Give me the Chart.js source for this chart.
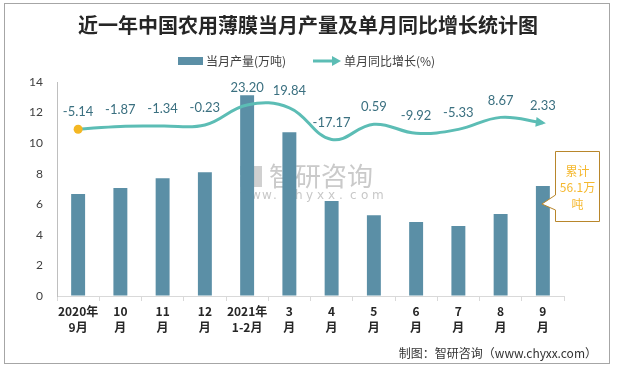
<!DOCTYPE html>
<html>
<head>
<meta charset="utf-8">
<script src="https://cdn.jsdelivr.net/npm/chart.js@4.4.1/dist/chart.umd.min.js"></script>
<style>
html,body{margin:0;padding:0;background:#fff;}
#wrap{position:relative;width:617px;height:367px;}
canvas{display:block;}
</style>
</head>
<body>
<div id="wrap"><canvas id="c" width="617" height="367"></canvas></div>
<script>
// ---- data ----
const categories = [['2020年','9月'],['10','月'],['11','月'],['12','月'],['2021年','1-2月'],['3','月'],['4','月'],['5','月'],['6','月'],['7','月'],['8','月'],['9','月']];
const production = [6.67, 7.06, 7.71, 8.10, 13.14, 10.72, 6.21, 5.29, 4.84, 4.58, 5.36, 7.19];
const growth = [-5.14, -1.87, -1.34, -0.23, 23.20, 19.84, -17.17, 0.59, -9.92, -5.33, 8.67, 2.33];
const yTicks = [0, 2, 4, 6, 8, 10, 12, 14];
const titleText = '近一年中国农用薄膜当月产量及单月同比增长统计图';
const legendBar = '当月产量(万吨)';
const legendLine = '单月同比增长(%)';
const calloutLines = ['累计', '56.1万', '吨'];
const footerText = '制图：智研咨询（www.chyxx.com）';

const BAR = '#5b8fa6';
const LINE = '#5cbdb5';
const CJK = '"Noto Sans CJK SC", sans-serif';

const decorPlugin = {
  id: 'decor',
  beforeDraw(chart) {
    const ctx = chart.ctx;
    ctx.save();
    ctx.fillStyle = '#fff';
    ctx.fillRect(0, 0, chart.width, chart.height);
    // border
    ctx.strokeStyle = '#a6a6a6';
    ctx.lineWidth = 1;
    ctx.strokeRect(4.5, 3.5, 605, 360);
    // title
    ctx.fillStyle = '#262626';
    ctx.font = 'bold 20px ' + CJK;
    ctx.textAlign = 'center';
    ctx.textBaseline = 'middle';
    ctx.fillText(titleText, 308, 25);
    // legend
    ctx.font = '12px ' + CJK;
    ctx.textAlign = 'left';
    ctx.fillStyle = BAR;
    ctx.fillRect(178, 57, 25, 8);
    ctx.fillStyle = '#404040';
    ctx.fillText(legendBar, 206, 61);
    ctx.strokeStyle = LINE;
    ctx.lineWidth = 3;
    ctx.beginPath(); ctx.moveTo(313, 61); ctx.lineTo(334, 61); ctx.stroke();
    ctx.fillStyle = LINE;
    ctx.beginPath(); ctx.moveTo(341, 61); ctx.lineTo(332, 56); ctx.lineTo(332, 66); ctx.closePath(); ctx.fill();
    ctx.fillStyle = '#404040';
    ctx.fillText(legendLine, 344, 61);
    // footer
    ctx.font = '12px ' + CJK;
    ctx.textAlign = 'right';
    ctx.fillStyle = '#333';
    ctx.fillText(footerText, 597, 353);
    ctx.restore();
  },
  beforeDatasetsDraw(chart) {
    // watermark
    const ctx = chart.ctx;
    ctx.save();
    ctx.fillStyle = '#c4d4e4';
    ctx.fillRect(240, 166, 10, 9);
    ctx.fillStyle = '#d6e2ee';
    ctx.fillRect(240, 177, 10, 10);
    ctx.fillStyle = '#d0d0d0';
    ctx.fillRect(252, 166, 10, 21);
    ctx.fillStyle = '#cacaca';
    ctx.font = '26px ' + CJK;
    ctx.textAlign = 'left';
    ctx.textBaseline = 'middle';
    ctx.fillText('智研咨询', 269, 176);
    ctx.font = '12px "DejaVu Sans", sans-serif';
    ctx.fillStyle = '#c8c8c8';
    const w = 'www.chyxx.com';
    for (let i = 0; i < w.length; i++) ctx.fillText(w[i], 240 + i * 11, 196);
    ctx.restore();
  },
  afterDatasetsDraw(chart) {
    const ctx = chart.ctx;
    const meta = chart.getDatasetMeta(1);
    const pts = meta.data;
    ctx.save();
    // arrow head at last point
    const last = pts[pts.length - 1];
    let dx = last.x - (last.cp1x ?? pts[pts.length - 2].x);
    let dy = last.y - (last.cp1y ?? pts[pts.length - 2].y);
    const len = Math.hypot(dx, dy) || 1;
    dx /= len; dy /= len;
    const nx = -dy, ny = dx;
    const tipX = last.x + dx * 3, tipY = last.y + dy * 3;
    const bx = tipX - dx * 10, by = tipY - dy * 10;
    ctx.fillStyle = LINE;
    ctx.beginPath();
    ctx.moveTo(tipX, tipY);
    ctx.lineTo(bx + nx * 5, by + ny * 5);
    ctx.lineTo(bx - nx * 5, by - ny * 5);
    ctx.closePath();
    ctx.fill();
    // first point marker on top
    ctx.fillStyle = '#f4b723';
    ctx.beginPath(); ctx.arc(pts[0].x, pts[0].y, 4.5, 0, Math.PI * 2); ctx.fill();
    // data labels
    ctx.font = '13px Lato, "Liberation Sans", sans-serif';
    ctx.fillStyle = '#3b7080';
    ctx.textAlign = 'center';
    ctx.textBaseline = 'middle';
    pts.forEach((p, i) => {
      ctx.fillText(growth[i].toFixed(2), p.x, p.y - 17);
    });
    // callout box
    const barMeta = chart.getDatasetMeta(0);
    const b = barMeta.data[barMeta.data.length - 1];
    const x0 = 555.5, y0 = 151.5, x1 = 599.5, y1 = 221.5;
    ctx.fillStyle = '#fff';
    ctx.strokeStyle = '#b8862b';
    ctx.lineWidth = 1;
    ctx.beginPath();
    ctx.moveTo(x0, y0);
    ctx.lineTo(x1, y0);
    ctx.lineTo(x1, y1);
    ctx.lineTo(x0, y1);
    ctx.lineTo(x0, 210);
    ctx.lineTo(b.x - 1, 204);
    ctx.lineTo(x0, 195);
    ctx.closePath();
    ctx.fill();
    ctx.stroke();
    ctx.fillStyle = '#f5b82e';
    ctx.font = '12px ' + CJK;
    ctx.fillText(calloutLines[0], 577.5, 171);
    ctx.fillText(calloutLines[1], 577.5, 187);
    ctx.fillText(calloutLines[2], 577.5, 204);
    ctx.restore();
  }
};

new Chart(document.getElementById('c'), {
  type: 'bar',
  data: {
    labels: categories,
    datasets: [
      {
        type: 'bar',
        label: legendBar,
        data: production,
        backgroundColor: BAR,
        barPercentage: 0.66,
        categoryPercentage: 0.5,
        yAxisID: 'y',
        order: 2
      },
      {
        type: 'line',
        label: legendLine,
        data: growth,
        borderColor: LINE,
        borderWidth: 3,
        tension: 0.4,
        pointRadius: 0,
        pointHoverRadius: 0,
        fill: false,
        yAxisID: 'y2',
        order: 1
      }
    ]
  },
  options: {
    responsive: false,
    animation: false,
    events: [],
    layout: { padding: { left: 0, right: 53, top: 82, bottom: 31 } },
    plugins: {
      legend: { display: false },
      title: { display: false },
      tooltip: { enabled: false }
    },
    scales: {
      x: {
        offset: true,
        grid: { offset: true, drawOnChartArea: false, drawTicks: true, tickLength: 5, color: '#d9d9d9' },
        border: { color: '#d9d9d9', width: 1 },
        ticks: {
          color: '#262626',
          font: { family: CJK, size: 12, weight: 'bold', lineHeight: 1.35 },
          padding: 2,
          maxRotation: 0,
          autoSkip: false
        },
        afterFit(s) { s.height = 40; }
      },
      y: {
        position: 'left',
        min: 0,
        max: 14,
        afterBuildTicks(s) { s.ticks = yTicks.map(v => ({ value: v })); },
        grid: { drawOnChartArea: false, drawTicks: false },
        border: { color: '#bfbfbf', width: 1 },
        ticks: {
          color: '#404040',
          font: { family: 'Lato, "Liberation Sans", sans-serif', size: 12 },
          padding: 14
        },
        afterFit(s) { s.width = 57; }
      },
      y2: {
        display: false,
        min: -200,
        max: 50
      }
    }
  },
  plugins: [decorPlugin]
});
</script>
</body>
</html>
